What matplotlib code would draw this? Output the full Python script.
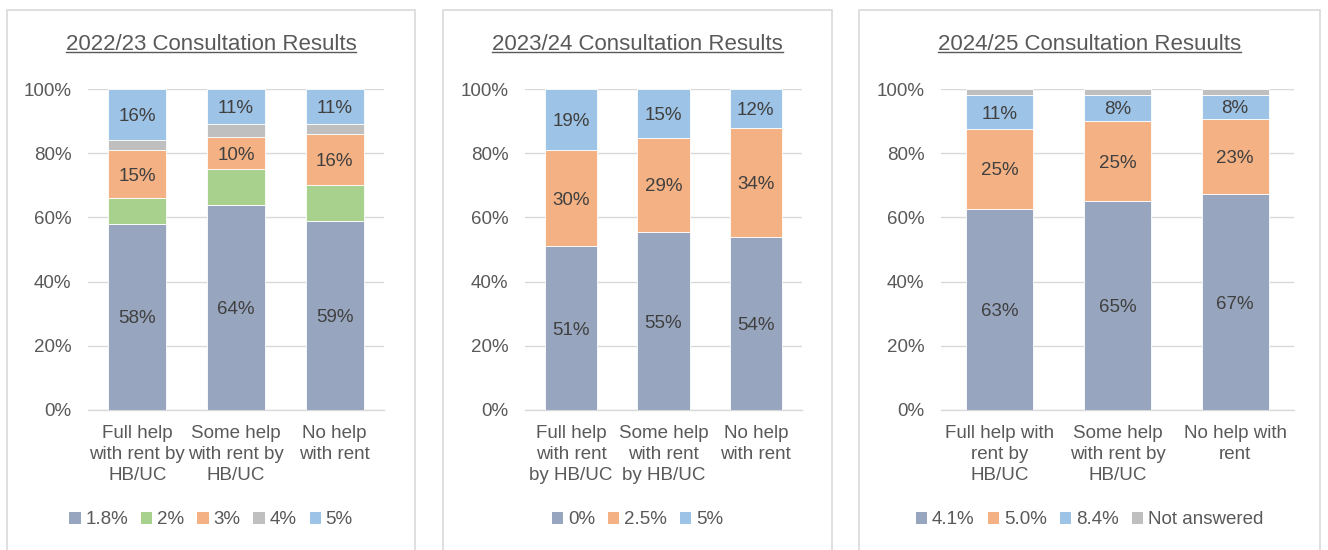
import matplotlib.pyplot as plt
import numpy as np
from matplotlib.patches import Patch, Rectangle
from matplotlib.lines import Line2D

plt.rcParams["font.family"] = ["Liberation Sans", "DejaVu Sans"]

# ---- data ----
titles = [
    "2022/23 Consultation Results",
    "2023/24 Consultation Results",
    "2024/25 Consultation Resuults",
]

cats_1 = ["Full help\nwith rent by\nHB/UC", "Some help\nwith rent by\nHB/UC", "No help\nwith rent"]
cats_2 = ["Full help\nwith rent\nby HB/UC", "Some help\nwith rent\nby HB/UC", "No help\nwith rent"]
cats_3 = ["Full help with\nrent by\nHB/UC", "Some help\nwith rent by\nHB/UC", "No help with\nrent"]

series_1 = ["1.8%", "2%", "3%", "4%", "5%"]
values_1 = [
    [58, 64, 59],
    [8, 11, 11],
    [15, 10, 16],
    [3, 4, 3],
    [16, 11, 11],
]
labelled_1 = [True, False, True, False, True]

series_2 = ["0%", "2.5%", "5%"]
values_2 = [
    [51, 55.4, 54],
    [30, 29.4, 34],
    [19, 15.2, 12],
]
labelled_2 = [True, True, True]

series_3 = ["4.1%", "5.0%", "8.4%", "Not answered"]
values_3 = [
    [62.7, 65.0, 67.2],
    [24.8, 25.0, 23.4],
    [10.6, 8.2, 7.6],
    [1.9, 1.8, 1.8],
]
labelled_3 = [True, True, True, False]

colors_1 = ["#97A6BE", "#A9D18E", "#F4B183", "#BFBFBF", "#9DC3E6"]
colors_2 = ["#97A6BE", "#F4B183", "#9DC3E6"]
colors_3 = ["#97A6BE", "#F4B183", "#9DC3E6", "#BFBFBF"]

W, H = 1328, 550
TXT = "#595959"
LBL = "#404040"
GRID = "#D9D9D9"
FS = 13.5

fig = plt.figure(figsize=(W / 100, H / 100), dpi=100)

# panel frames (pixel x0, x1) and plot area (pixel x0, x1)
panels = [(7, 415), (443, 832), (859, 1320)]
plot_areas = [(88, 384), (525, 802), (941, 1294)]
bar_widths = [0.59, 0.57, 0.57]
y_top_px, y_bot_px = 89, 410


def draw_panel(i, cats, series, values, colors, labelled):
    px0, px1 = panels[i]
    fig.patches.append(Rectangle((px0 / W, -0.05), (px1 - px0) / W, (H - 10) / H + 0.05,
                                 transform=fig.transFigure, fill=False,
                                 edgecolor=GRID, linewidth=1.2, zorder=0))
    ax0, ax1 = plot_areas[i]
    ax = fig.add_axes([ax0 / W, (H - y_bot_px) / H, (ax1 - ax0) / W, (y_bot_px - y_top_px) / H])
    x = np.arange(len(cats))
    bottom = np.zeros(len(cats))
    for name, vals, col, lab in zip(series, values, colors, labelled):
        vals = np.array(vals, dtype=float)
        ax.bar(x, vals, bottom=bottom, width=bar_widths[i], color=col, label=name,
               edgecolor="white", linewidth=0.6, zorder=3)
        if lab:
            for xi, b, v in zip(x, bottom, vals):
                ax.text(xi, b + v / 2, f"{round(v):d}%", ha="center", va="center_baseline",
                        fontsize=FS, color=LBL, zorder=4)
        bottom += vals
    ax.set_xlim(-0.5, len(cats) - 0.5)
    ax.set_ylim(0, 100)
    ax.set_yticks(np.arange(0, 101, 20))
    ax.set_yticklabels([f"{v}%" for v in range(0, 101, 20)])
    ax.set_xticks(x)
    ax.set_xticklabels(cats, linespacing=1.28)
    ax.tick_params(axis="both", length=0, labelsize=FS, colors=TXT)
    ax.tick_params(axis="x", pad=11)
    ax.tick_params(axis="y", pad=12)
    ax.grid(axis="y", color=GRID, linewidth=1.0, zorder=0)
    for s in ["top", "right", "left"]:
        ax.spines[s].set_visible(False)
    ax.spines["bottom"].set_color(GRID)
    ax.spines["bottom"].set_linewidth(1.0)

    cx = (px0 + px1) / 2 / W
    t = fig.text(cx, (H - 44) / H, titles[i], ha="center", va="center",
                 fontsize=16, color=TXT)
    handles = [Patch(facecolor=c, edgecolor="none") for c in colors]
    fig.legend(handles, series, loc="center", bbox_to_anchor=(cx, (H - 520) / H),
               bbox_transform=fig.transFigure, ncol=len(series), frameon=False,
               handlelength=0.6, handleheight=0.6, handletextpad=0.25,
               columnspacing=0.7, fontsize=FS, labelcolor=TXT)
    return t


title_texts = [
    draw_panel(0, cats_1, series_1, values_1, colors_1, labelled_1),
    draw_panel(1, cats_2, series_2, values_2, colors_2, labelled_2),
    draw_panel(2, cats_3, series_3, values_3, colors_3, labelled_3),
]

# underline the titles
fig.canvas.draw()
renderer = fig.canvas.get_renderer()
for t in title_texts:
    bb = t.get_window_extent(renderer)
    yy = (bb.y0 + 2.5) / H
    fig.add_artist(Line2D([bb.x0 / W, bb.x1 / W], [yy, yy], transform=fig.transFigure,
                          color=TXT, linewidth=1.0))

fig.savefig("out.png", dpi=100)
